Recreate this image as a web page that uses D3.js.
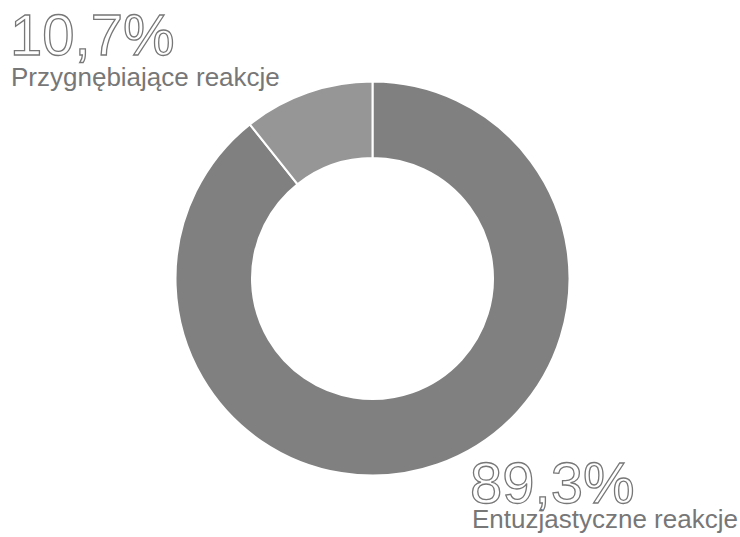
<!DOCTYPE html>
<html><head><meta charset="utf-8">
<script src="https://cdn.jsdelivr.net/npm/d3@7/dist/d3.min.js"></script>
<style>body{margin:0;background:#fff}svg{display:block}</style>
</head><body>
<svg id="c" width="740" height="537"></svg>
<script>
const categories = ["Entuzjastyczne reakcje", "Przygnębiające reakcje"];
const values = [89.3, 10.7];
const valueLabels = ["89,3%", "10,7%"];
const colors = ["#808080", "#969696"];

const svg = d3.select("#c");
const cx = 372.5, cy = 278.5, rOuter = 197, rInner = 120.5;

const pie = d3.pie().sort(null).value(d => d)
  .startAngle(0).endAngle(2 * Math.PI);
const arcs = pie(values);
const arc = d3.arc().innerRadius(rInner).outerRadius(rOuter);

const g = svg.append("g").attr("transform", `translate(${cx},${cy})`);
g.selectAll("path").data(arcs).join("path")
  .attr("d", arc)
  .attr("fill", (d, i) => colors[i])
  .attr("stroke", "#fff")
  .attr("stroke-width", 2);

const font = "'Liberation Sans', Arial, sans-serif";
const labelPos = [
  {nx: 470, ny: 503, lx: 472, ly: 528},
  {nx: 10, ny: 55, lx: 11, ly: 86}
];
categories.forEach((c, i) => {
  const p = labelPos[i];
  svg.append("text").attr("x", p.nx).attr("y", p.ny)
    .attr("font-family", font).attr("font-size", 58).attr("font-weight", 300)
    .attr("fill", "#fff").attr("stroke", "#777").attr("stroke-width", 1.3)
    .text(valueLabels[i]);
  svg.append("text").attr("x", p.lx).attr("y", p.ly)
    .attr("font-family", font).attr("font-size", 26)
    .attr("fill", "#777")
    .text(c);
});
</script>
</body></html>
